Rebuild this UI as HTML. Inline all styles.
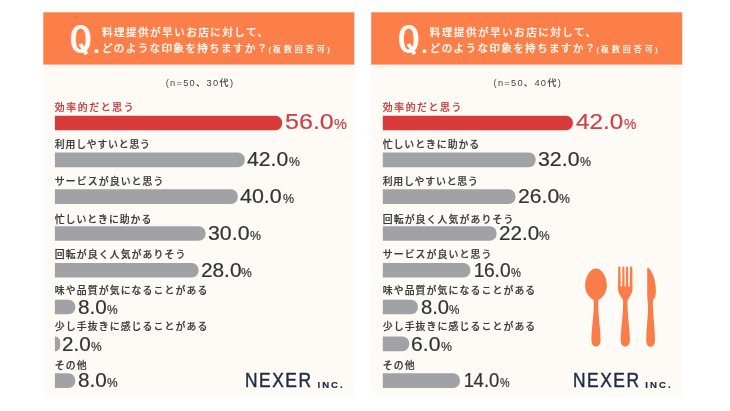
<!DOCTYPE html>
<html lang="ja">
<head>
<meta charset="utf-8">
<title>料理提供が早いお店に対する印象</title>
<style>
html,body{margin:0;padding:0;}
body{width:730px;height:411px;background:#ffffff;position:relative;overflow:hidden;
 font-family:"Liberation Sans","Noto Sans CJK JP",sans-serif;color:#333333;filter:blur(0.45px);}
.art{position:absolute;left:0;top:0;}
.panel{position:absolute;top:12.3px;width:311px;height:385px;}
.panel div{position:absolute;white-space:nowrap;}
.q{font-family:"IPAGothic","DejaVu Sans Mono",monospace;font-size:36px;line-height:40px;color:#fffaf5;
 -webkit-text-stroke:0.75px #fffaf5;transform-origin:0 0;left:23.7px;top:8.1px;transform:scaleX(1.25);height:36px;overflow:hidden;padding:0 2px;}
.qdot{font-family:"DejaVu Sans Mono","Liberation Mono",monospace;line-height:40px;color:#fffaf5;left:47.2px;top:14.2px;font-size:20px;font-weight:bold;}
.t1,.t2{left:58.6px;color:#fff6ee;font-size:10.6px;line-height:14px;letter-spacing:1.45px;font-weight:500;-webkit-text-stroke:0.25px #fff6ee;}
.t1{top:12.4px;}
.t2{top:28.6px;letter-spacing:1.32px;}
.t3{left:225.3px;top:30.4px;color:#fff6ee;font-size:8px;line-height:14px;letter-spacing:3px;font-weight:700;}
.t3 .p1{letter-spacing:1.5px;}
.t3 .p2{letter-spacing:2.4px;}
.sub{left:1.2px;width:311px;top:63.9px;text-align:center;font-size:9.3px;line-height:14px;letter-spacing:1.25px;color:#444;font-weight:500;}
.lbl{left:11.5px;font-size:9.9px;line-height:12px;letter-spacing:1.1px;font-weight:500;color:#3a3a3a;-webkit-text-stroke:0.2px currentColor;}
.lbl.first{color:#c8393c;}
.val{height:14.6px;line-height:14.6px;color:#343434;transform-origin:0 50%;-webkit-text-stroke:0.2px currentColor;}
.val .num{font-size:19.5px;display:inline-block;transform:scaleX(1.2);transform-origin:0 50%;}
.val .pct{font-size:12.3px;display:inline-block;transform:scaleX(1.1);transform-origin:0 50%;position:relative;}
.val .one{margin-left:-1.2px;margin-right:-0.6px;}
.val.first{color:#cc4247;}
.val.first .num{font-size:22.4px;}
.val.first .pct{font-size:14px;}
.logo{left:202.2px;top:360.2px;height:18px;line-height:18px;color:#1d2c45;}
.nx{font-size:19.3px;letter-spacing:1.7px;display:inline-block;transform:scaleX(0.9);transform-origin:0 50%;-webkit-text-stroke:0.45px #1d2c45;}
.inc{font-size:9.6px;position:relative;top:0.9px;-webkit-text-stroke:0.2px #1d2c45;font-weight:bold;letter-spacing:2.05px;margin-left:-3px;}
</style>
</head>
<body>
<svg class="art" width="730" height="411" viewBox="0 0 730 411">
<rect x="43.3" y="12.3" width="311.0" height="385.0" fill="#fefbf6"/>
<rect x="43.3" y="12.3" width="311.0" height="52.3" fill="#fc7e49"/>
<rect x="371.2" y="12.3" width="311.0" height="385.0" fill="#fefbf6"/>
<rect x="371.2" y="12.3" width="311.0" height="52.3" fill="#fc7e49"/>
<path fill="#d93b3a" d="M54.90 115.75H275.40A6.80 6.80 0 0 1 282.20 122.55V123.55A6.80 6.80 0 0 1 275.40 130.35H54.90Z"/>
<path fill="#a1a2a6" d="M54.90 152.55H238.00A6.80 6.80 0 0 1 244.80 159.35V160.35A6.80 6.80 0 0 1 238.00 167.15H54.90Z"/>
<path fill="#a1a2a6" d="M54.90 189.35H231.00A6.80 6.80 0 0 1 237.80 196.15V197.15A6.80 6.80 0 0 1 231.00 203.95H54.90Z"/>
<path fill="#a1a2a6" d="M54.90 226.15H198.80A6.80 6.80 0 0 1 205.60 232.95V233.95A6.80 6.80 0 0 1 198.80 240.75H54.90Z"/>
<path fill="#a1a2a6" d="M54.90 262.95H191.80A6.80 6.80 0 0 1 198.60 269.75V270.75A6.80 6.80 0 0 1 191.80 277.55H54.90Z"/>
<path fill="#a1a2a6" d="M54.90 299.75H68.50A6.80 6.80 0 0 1 75.30 306.55V307.55A6.80 6.80 0 0 1 68.50 314.35H54.90Z"/>
<path fill="#a1a2a6" d="M54.90 336.55H55.70A4.51 5.50 0 0 1 60.20 342.05V345.65A4.51 5.50 0 0 1 55.70 351.15H54.90Z"/>
<path fill="#a1a2a6" d="M54.90 373.35H68.50A6.80 6.80 0 0 1 75.30 380.15V381.15A6.80 6.80 0 0 1 68.50 387.95H54.90Z"/>
<path fill="#d93b3a" d="M382.80 115.75H566.10A6.80 6.80 0 0 1 572.90 122.55V123.55A6.80 6.80 0 0 1 566.10 130.35H382.80Z"/>
<path fill="#a1a2a6" d="M382.80 152.55H528.80A6.80 6.80 0 0 1 535.60 159.35V160.35A6.80 6.80 0 0 1 528.80 167.15H382.80Z"/>
<path fill="#a1a2a6" d="M382.80 189.35H508.70A6.80 6.80 0 0 1 515.50 196.15V197.15A6.80 6.80 0 0 1 508.70 203.95H382.80Z"/>
<path fill="#a1a2a6" d="M382.80 226.15H489.80A6.80 6.80 0 0 1 496.60 232.95V233.95A6.80 6.80 0 0 1 489.80 240.75H382.80Z"/>
<path fill="#a1a2a6" d="M382.80 262.95H463.60A6.80 6.80 0 0 1 470.40 269.75V270.75A6.80 6.80 0 0 1 463.60 277.55H382.80Z"/>
<path fill="#a1a2a6" d="M382.80 299.75H411.10A6.80 6.80 0 0 1 417.90 306.55V307.55A6.80 6.80 0 0 1 411.10 314.35H382.80Z"/>
<path fill="#a1a2a6" d="M382.80 336.55H402.40A6.80 6.80 0 0 1 409.20 343.35V344.35A6.80 6.80 0 0 1 402.40 351.15H382.80Z"/>
<path fill="#a1a2a6" d="M382.80 373.35H453.20A6.80 6.80 0 0 1 460.00 380.15V381.15A6.80 6.80 0 0 1 453.20 387.95H382.80Z"/>
<g fill="#f97d48" transform="translate(0,0.2)">
<path d="M596 268.3 C601.5 268.3 606.9 276 606.9 285.5 C606.9 292.5 602.5 297.5 598.6 299.6 C598 302 598.2 304.5 598.3 307.5 C598.6 318 600.6 330 600.6 339.5 C600.6 344 598.8 346.3 596 346.3 C593.2 346.3 591.4 344 591.4 339.5 C591.4 330 593.4 318 593.7 307.5 C593.8 304.5 594 302 593.4 299.6 C589.5 297.5 585.1 292.5 585.1 285.5 C585.1 276 590.5 268.3 596 268.3 Z"/>
<path d="M618.2 267.2 C618.2 265.9 620.4 265.9 620.4 267.2 L620.7 286.3 L622.2 286.3 L622.4 267.2 C622.4 265.9 624.4 265.9 624.4 267.2 L624.6 286.3 L625.9 286.3 L626.1 267.2 C626.1 265.9 628.1 265.9 628.1 267.2 L628.3 286.3 L629.8 286.3 L630.1 267.2 C630.1 265.9 632.3 265.9 632.3 267.2 L632.5 288 C632.5 294 629 297 627.6 299.8 C627.3 302 627.5 304.5 627.6 307.5 C627.9 318 629.9 330 629.9 339.5 C629.9 344 628.1 346.3 625.3 346.3 C622.5 346.3 620.7 344 620.7 339.5 C620.7 330 622.7 318 623 307.5 C623.1 304.5 623.3 302 623 299.8 C621.6 297 618 294 618 288 Z"/>
<path d="M647.2 268.5 C647.2 267.3 648.4 267.2 649.2 268.2 C653.5 273.5 655.9 281.5 655.9 290.5 C655.9 294.5 655.3 297 654.4 298.4 L653.2 298.8 C652.8 302 652.9 304.5 653 307.5 C653.3 318 655 330 655 339.5 C655 344 653.3 346.5 650.6 346.5 C647.9 346.5 646.2 344 646.2 339.5 C646.2 330 647.9 318 648 307.5 C648 304 647.4 300 647.2 296 Z"/>
</g>
</svg>
<div class="panel" style="left:43.3px">
<div class="q">Q</div><div class="qdot">.</div>
<div class="t1">料理提供が早いお店に対して、</div>
<div class="t2">どのような印象を持ちますか？</div>
<div class="t3"><span class="p1">(</span>複数回答<span class="p2">可</span>)</div>
<div class="sub">(n=50、30代)</div>
<div class="lbl first" style="top:90.0px;letter-spacing:1.6px">効率的だと思う</div>
<div class="val first" style="top:102.5px;left:241.38px"><span class="num" style="transform:scaleX(1.120)">56.0</span><span class="pct" style="margin-left:5.7px;transform:scaleX(1.030)">%</span></div>
<div class="lbl" style="top:126.5px;letter-spacing:0.8px">利用しやすいと思う</div>
<div class="val" style="top:140.2px;left:204.08px"><span class="num" style="transform:scaleX(1.084)">42.0</span><span class="pct" style="margin-left:3.7px;transform:scaleX(0.997)">%</span></div>
<div class="lbl" style="top:163.4px">サービスが良いと思う</div>
<div class="val" style="top:177.0px;left:197.08px"><span class="num" style="transform:scaleX(1.100)">40.0</span><span class="pct" style="margin-left:4.3px;transform:scaleX(1.012)">%</span></div>
<div class="lbl" style="top:201.6px;letter-spacing:0.95px">忙しいときに助かる</div>
<div class="val" style="top:213.8px;left:164.28px"><span class="num" style="transform:scaleX(1.094)">30.0</span><span class="pct" style="margin-left:4.1px;transform:scaleX(1.006)">%</span></div>
<div class="lbl" style="top:237.0px">回転が良く人気がありそう</div>
<div class="val" style="top:251.1px;left:157.24px"><span class="num" style="transform:scaleX(1.066)">28.0</span><span class="pct" style="margin-left:3.0px;transform:scaleX(0.981)">%</span></div>
<div class="lbl" style="top:273.2px">味や品質が気になることがある</div>
<div class="val" style="top:287.4px;left:34.46px"><span class="num" style="transform:scaleX(1.061)">8.0</span><span class="pct" style="margin-left:2.2px;transform:scaleX(0.976)">%</span></div>
<div class="lbl" style="top:309.1px">少し手抜きに感じることがある</div>
<div class="val" style="top:324.9px;left:18.90px"><span class="num" style="transform:scaleX(1.057)">2.0</span><span class="pct" style="margin-left:2.0px;transform:scaleX(0.973)">%</span></div>
<div class="lbl" style="top:347.3px">その他</div>
<div class="val" style="top:361.0px;left:34.46px"><span class="num" style="transform:scaleX(1.061)">8.0</span><span class="pct" style="margin-left:2.2px;transform:scaleX(0.976)">%</span></div>
<div class="logo"><span class="nx">NEXER</span><span class="inc">INC.</span></div>

</div>
<div class="panel" style="left:371.2px">
<div class="q">Q</div><div class="qdot">.</div>
<div class="t1">料理提供が早いお店に対して、</div>
<div class="t2">どのような印象を持ちますか？</div>
<div class="t3"><span class="p1">(</span>複数回答<span class="p2">可</span>)</div>
<div class="sub">(n=50、40代)</div>
<div class="lbl first" style="top:90.0px;letter-spacing:1.6px">効率的だと思う</div>
<div class="val first" style="top:102.5px;left:205.24px"><span class="num" style="transform:scaleX(1.083)">42.0</span><span class="pct" style="margin-left:4.1px;transform:scaleX(0.996)">%</span></div>
<div class="lbl" style="top:126.5px;letter-spacing:0.95px">忙しいときに助かる</div>
<div class="val" style="top:140.2px;left:166.38px"><span class="num" style="transform:scaleX(1.094)">32.0</span><span class="pct" style="margin-left:4.1px;transform:scaleX(1.006)">%</span></div>
<div class="lbl" style="top:163.4px;letter-spacing:0.8px">利用しやすいと思う</div>
<div class="val" style="top:177.0px;left:146.56px"><span class="num" style="transform:scaleX(1.084)">26.0</span><span class="pct" style="margin-left:3.7px;transform:scaleX(0.997)">%</span></div>
<div class="lbl" style="top:201.6px">回転が良く人気がありそう</div>
<div class="val" style="top:213.8px;left:127.38px"><span class="num" style="transform:scaleX(1.057)">22.0</span><span class="pct" style="margin-left:2.7px;transform:scaleX(0.972)">%</span></div>
<div class="lbl" style="top:237.0px">サービスが良いと思う</div>
<div class="val" style="top:251.1px;left:103.96px"><span class="num" style="transform:scaleX(0.982)"><span class="one">1</span>6.0</span><span class="pct" style="margin-left:-0.1px;transform:scaleX(0.904)">%</span></div>
<div class="lbl" style="top:273.2px">味や品質が気になることがある</div>
<div class="val" style="top:287.4px;left:49.50px"><span class="num" style="transform:scaleX(1.037)">8.0</span><span class="pct" style="margin-left:1.5px;transform:scaleX(0.954)">%</span></div>
<div class="lbl" style="top:309.1px">少し手抜きに感じることがある</div>
<div class="val" style="top:324.9px;left:39.82px"><span class="num" style="transform:scaleX(1.084)">6.0</span><span class="pct" style="margin-left:2.8px;transform:scaleX(0.997)">%</span></div>
<div class="lbl" style="top:347.3px">その他</div>
<div class="val" style="top:361.0px;left:93.76px"><span class="num" style="transform:scaleX(0.950)"><span class="one">1</span>4.0</span><span class="pct" style="margin-left:-1.3px;transform:scaleX(0.874)">%</span></div>
<div class="logo"><span class="nx">NEXER</span><span class="inc">INC.</span></div>

</div>
</body>
</html>
